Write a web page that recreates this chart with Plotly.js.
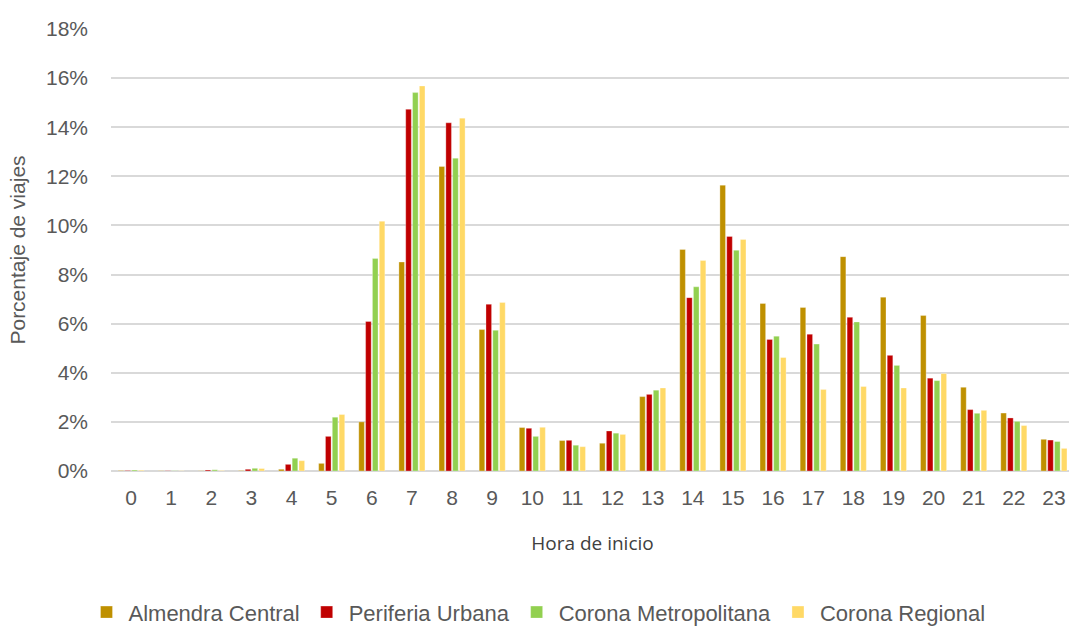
<!DOCTYPE html>
<html>
<head>
<meta charset="utf-8">
<script src="https://cdn.plot.ly/plotly-3.0.1.min.js"></script>
<style>html,body{margin:0;padding:0;background:#fff;overflow:hidden}</style>
</head>
<body>
<div id="chart"></div>
<script>
const hours = ["0","1","2","3","4","5","6","7","8","9","10","11","12","13","14","15","16","17","18","19","20","21","22","23"];
const seriesNames = ["Almendra Central","Periferia Urbana","Corona Metropolitana","Corona Regional"];
const almendraCentral     = [0.02,0.01,0.01,0.02,0.07,0.31,2.00,8.51,12.40,5.76,1.77,1.24,1.13,3.03,9.02,11.64,6.82,6.66,8.73,7.08,6.33,3.41,2.36,1.29];
const periferiaUrbana     = [0.02,0.01,0.04,0.07,0.27,1.41,6.09,14.73,14.18,6.79,1.74,1.25,1.63,3.12,7.06,9.55,5.36,5.57,6.26,4.71,3.78,2.50,2.16,1.26];
const coronaMetropolitana = [0.04,0.01,0.05,0.11,0.52,2.19,8.65,15.41,12.74,5.73,1.41,1.05,1.54,3.29,7.50,8.99,5.49,5.17,6.07,4.30,3.68,2.35,2.02,1.20];
const coronaRegional      = [0.03,0.01,0.02,0.10,0.42,2.30,10.17,15.68,14.37,6.86,1.78,0.99,1.49,3.38,8.57,9.43,4.62,3.32,3.44,3.38,3.97,2.47,1.85,0.92];
const colors = ["#BF9000","#C00000","#92D050","#FFD966"];
const values = [almendraCentral, periferiaUrbana, coronaMetropolitana, coronaRegional];

const traces = values.map((v,i)=>({
  type:"bar", name:seriesNames[i], x:hours, y:v,
  marker:{color:colors[i], line:{color:"rgba(255,255,255,0.6)", width:0.5}},
  hovertemplate:"%{x}: %{y:.2f}%<extra></extra>"
}));

const tickFont = {family:"'Liberation Sans', Arial, sans-serif", size:21, color:"#595959"};
const legendFont = {family:"'Liberation Sans', Arial, sans-serif", size:22, color:"#595959"};
const layout = {
  width:1075, height:628,
  margin:{l:111, r:1, t:29, b:157},
  paper_bgcolor:"#fff", plot_bgcolor:"#fff",
  barmode:"group", bargap:0.32, bargroupgap:0.18,
  showlegend:true,
  xaxis:{
    type:"category", tickfont:tickFont, showgrid:false, zeroline:false,
    showline:false, ticks:"", ticklabelstandoff:12,
    title:{text:"Hora de inicio", font:{family:"'Open Sans', 'Noto Sans', sans-serif", size:19, color:"#404040"}, standoff:28}
  },
  yaxis:{
    range:[0,18], dtick:2, tickfont:tickFont, ticksuffix:"%",
    showgrid:true, gridcolor:"#d9d9d9", gridwidth:2,
    zeroline:true, zerolinecolor:"#d9d9d9", zerolinewidth:2,
    ticklabelstandoff:22,
    title:{text:"Porcentaje de viajes", font:tickFont, standoff:14}
  },
  legend:{
    orientation:"h", xref:"container", yref:"container", x:0.5, xanchor:"center",
    y:0.025, yanchor:"middle", font:legendFont, itemwidth:34, traceorder:"normal"
  }
};
Plotly.newPlot("chart", traces, layout, {displayModeBar:false, staticPlot:true});
</script>
</body>
</html>
